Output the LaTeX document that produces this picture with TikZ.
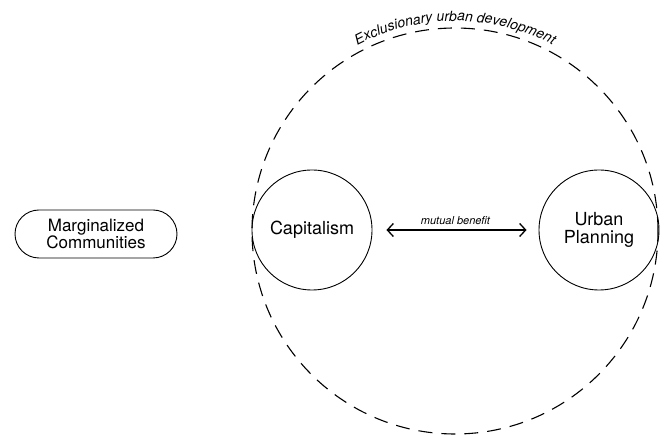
\documentclass[tikz,border=0pt]{standalone}
\usepackage{fontspec}
\setmainfont{TeX Gyre Heros}
\usetikzlibrary{arrows.meta,decorations.text,shapes.misc,calc}
\begin{document}
\begin{tikzpicture}[x=1pt,y=1pt,
  bigcirc/.style={circle,draw,line width=0.9pt,minimum size=120pt,inner sep=0pt,align=center,font=\fontsize{18}{20}\selectfont},
  pill/.style={rounded rectangle,draw,line width=0.9pt,minimum width=162pt,minimum height=48pt,inner sep=0pt,align=center,font=\fontsize{17}{19}\selectfont},
  boundary/.style={circle,draw,dashed,line width=1.1pt,dash pattern=on 14pt off 9pt,minimum size=406pt,inner sep=0pt},
  link/.style={{Straight Barb[length=6pt,width=13pt]}-{Straight Barb[length=6pt,width=13pt]},line width=1.3pt}]
\useasboundingbox (0,0) rectangle (664,436);
\node[boundary] (dev) at (455,205) {};
\node[bigcirc] (cap) at (312,206) {Capitalism};
\node[bigcirc] (urb) at (599,206) {Urban\\[-2pt]Planning};
\node[pill] (mar) at (96,202) {Marginalized\\[-2pt]Communities};
\draw[link,shorten <=14pt,shorten >=12pt] (cap) -- node[above=1pt,font=\fontsize{11}{12}\selectfont\itshape] (mb) {mutual benefit} (urb);
\coordinate (arcstart) at ($(dev.center)+(123:210)$);
\path[decorate,decoration={text along path,text align=center,
  text={|\fontsize{14}{16}\selectfont\itshape|Exclusionary urban development}}]
  (arcstart) arc[start angle=123,end angle=57,radius=210];
\end{tikzpicture}
\end{document}
